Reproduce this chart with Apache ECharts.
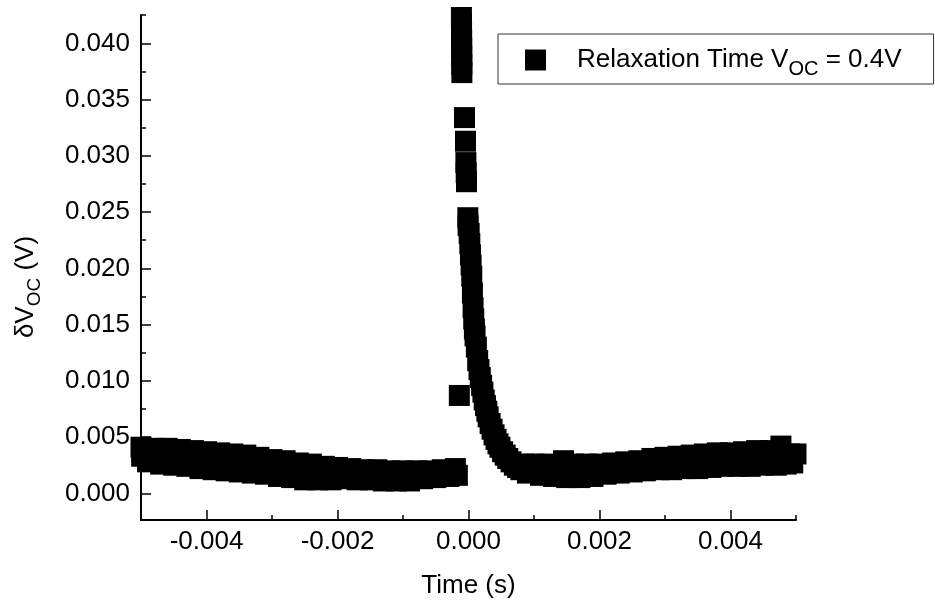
<!DOCTYPE html>
<html><head><meta charset="utf-8">
<script src="https://cdn.jsdelivr.net/npm/echarts@6/dist/echarts.min.js"></script>
<style>html,body{margin:0;padding:0;background:#fff}#c{width:935px;height:605px}</style>
</head><body><div id="c"></div>
<script>
const seriesName = 'Relaxation Time Voc = 0.4V';
const xLabelTicks = [-0.004, -0.002, 0, 0.002, 0.004];
const xMinorTicks = [-0.005, -0.003, -0.001, 0.001, 0.003, 0.005];
const yLabelTicks = [0, 0.005, 0.010, 0.015, 0.020, 0.025, 0.030, 0.035, 0.040];
const yMinorTicks = [0.0025, 0.0075, 0.0125, 0.0175, 0.0225, 0.0275, 0.0325, 0.0375, 0.0425];

// baseline before the pulse (time in s, dVoc in V)
const timeBefore = [-0.00500, -0.00499, -0.0049, -0.0048, -0.0047, -0.0046, -0.0045, -0.0044, -0.0043, -0.0042, -0.0041,
  -0.0040, -0.0039, -0.0038, -0.0037, -0.0036, -0.0035, -0.0034, -0.0033, -0.0032, -0.0031,
  -0.0030, -0.0029, -0.0028, -0.0027, -0.0026, -0.0025, -0.0024, -0.0023, -0.0022, -0.0021,
  -0.0020, -0.0019, -0.0018, -0.0017, -0.0016, -0.0015, -0.0014, -0.0013, -0.0012, -0.0011,
  -0.0010, -0.0009, -0.0008, -0.0007, -0.0006, -0.0005, -0.0004, -0.0003, -0.0002, -0.00017];
const voltBefore = [0.0041, 0.0033, 0.0028, 0.0040, 0.0026, 0.0040, 0.0025, 0.0039, 0.0024, 0.0038, 0.0022,
  0.0037, 0.0021, 0.0036, 0.0020, 0.0035, 0.0019, 0.0034, 0.0018, 0.0032, 0.0017,
  0.0030, 0.0015, 0.0029, 0.0014, 0.0027, 0.0012, 0.0026, 0.0012, 0.0024, 0.0012,
  0.0023, 0.0013, 0.0022, 0.0012, 0.0021, 0.0012, 0.0021, 0.0011, 0.0020, 0.0011,
  0.0020, 0.0011, 0.0020, 0.0013, 0.0020, 0.0014, 0.0021, 0.0015, 0.0022, 0.0016];

// pulse and decay
const timeDecay = [-0.00014, -0.000108, -0.000107, -0.000106, -0.000105, -0.000104, -0.000103, -0.000102, -0.000101,
  -0.000061, -0.000046, -0.000040, -0.000035, -0.000031, -0.000010, -0.000006,
  0.00001, 0.00002, 0.00003, 0.00004, 0.00005, 0.00006, 0.00007, 0.00008, 0.00009, 0.00010,
  0.00012, 0.00014, 0.00016, 0.00018, 0.00020, 0.00022, 0.00024, 0.00026, 0.00028, 0.00030,
  0.00033, 0.00036, 0.00039, 0.00042, 0.00045, 0.00048, 0.00052, 0.00056, 0.00060, 0.00065,
  0.00070, 0.00075, 0.00080];
const voltDecay = [0.0087, 0.0423, 0.0417, 0.0410, 0.0403, 0.0396, 0.0389, 0.0381, 0.0374,
  0.0334, 0.0313, 0.0294, 0.0285, 0.0277, 0.0245, 0.0238,
  0.0231, 0.0222, 0.0212, 0.0203, 0.0193, 0.0178, 0.0165, 0.0155, 0.0146, 0.0140,
  0.0130, 0.0118, 0.0110, 0.0103, 0.0096, 0.0090, 0.0083, 0.0078, 0.0073, 0.0068,
  0.0062, 0.0057, 0.0052, 0.0048, 0.0044, 0.0041, 0.0037, 0.0034, 0.0031, 0.0028,
  0.0025, 0.0023, 0.0021];

// baseline after the pulse
const timeAfter = [0.00085, 0.0009, 0.0010, 0.0011, 0.0012, 0.0013, 0.00145, 0.0015, 0.0016, 0.0017, 0.0018, 0.0019,
  0.0020, 0.0021, 0.0022, 0.0023, 0.0024, 0.0025, 0.0026, 0.0027, 0.0028, 0.0029,
  0.0030, 0.0031, 0.0032, 0.0033, 0.0034, 0.0035, 0.0036, 0.0037, 0.0038, 0.0039,
  0.0040, 0.0041, 0.0042, 0.0043, 0.0044, 0.0045, 0.0046, 0.0047, 0.00477, 0.00485, 0.0049, 0.00495, 0.0050];
const voltAfter = [0.0026, 0.0018, 0.0026, 0.0016, 0.0026, 0.0015, 0.0029, 0.0014, 0.0026, 0.0014, 0.0026, 0.0015,
  0.0026, 0.0017, 0.0027, 0.0018, 0.0028, 0.0019, 0.0029, 0.0020, 0.0031, 0.0021,
  0.0032, 0.0021, 0.0033, 0.0022, 0.0034, 0.0022, 0.0035, 0.0023, 0.0036, 0.0024,
  0.0036, 0.0024, 0.0037, 0.0024, 0.0038, 0.0025, 0.0038, 0.0025, 0.0042, 0.0026, 0.0035, 0.0027, 0.0035];

const times = timeBefore.concat(timeDecay, timeAfter);
const volts = voltBefore.concat(voltDecay, voltAfter);
const points = times.map((t, i) => [t, volts[i]]);

const FONT = 'Liberation Sans, Arial, sans-serif';
const fmt = v => (Math.abs(v) < 1e-12 ? 0 : v).toFixed(3);

const chart = echarts.init(document.getElementById('c'), null, {renderer: 'canvas'});
chart.setOption({
  animation: false,
  backgroundColor: '#fff',
  grid: {left: 141, right: 139, top: 15, bottom: 85},
  xAxis: [{
    type: 'value', min: -0.005, max: 0.005, position: 'bottom',
    name: 'Time (s)', nameLocation: 'middle', nameGap: 53,
    nameTextStyle: {fontFamily: FONT, fontSize: 26, color: '#000'},
    axisLine: {onZero: false, lineStyle: {color: '#000', width: 2}},
    axisTick: {inside: true, length: 10, lineStyle: {color: '#000', width: 1.5}, customValues: xLabelTicks},
    axisLabel: {customValues: xLabelTicks, formatter: fmt, fontFamily: FONT, fontSize: 26, color: '#000', margin: 9},
    splitLine: {show: false}
  }, {
    type: 'value', min: -0.005, max: 0.005, position: 'bottom', offset: 0,
    axisLine: {show: false, onZero: false},
    axisTick: {inside: true, length: 5, lineStyle: {color: '#000', width: 1.5}, customValues: xMinorTicks},
    axisLabel: {show: false},
    splitLine: {show: false}
  }],
  yAxis: [{
    type: 'value', min: -0.00237, max: 0.04252, position: 'left',
    axisLine: {onZero: false, lineStyle: {color: '#000', width: 2}},
    axisTick: {inside: true, length: 10, lineStyle: {color: '#000', width: 1.5}, customValues: yLabelTicks},
    axisLabel: {customValues: yLabelTicks, formatter: fmt, fontFamily: FONT, fontSize: 26, color: '#000', margin: 11},
    splitLine: {show: false}
  }, {
    type: 'value', min: -0.00237, max: 0.04252, position: 'left', offset: 0,
    axisLine: {show: false, onZero: false},
    axisTick: {inside: true, length: 5, lineStyle: {color: '#000', width: 1.5}, customValues: yMinorTicks},
    axisLabel: {show: false},
    splitLine: {show: false}
  }],
  legend: {
    left: 498, top: 34,
    padding: [7, 32, 5, 27],
    borderColor: '#333', borderWidth: 1, backgroundColor: '#fff',
    itemWidth: 21, itemHeight: 21, icon: 'rect',
    itemStyle: {color: '#000', opacity: 1, borderWidth: 0},
    selectedMode: false,
    data: [seriesName],
    formatter: () => '{gap| }{a|Relaxation Time V}{b|OC}{a| = 0.4V}',
    textStyle: {
      rich: {
        gap: {width: 26, fontSize: 26, lineHeight: 36},
        a: {fontFamily: FONT, fontSize: 26, lineHeight: 36, color: '#000'},
        b: {fontFamily: FONT, fontSize: 20, lineHeight: 20, padding: [18, 0, 0, 0], color: '#000'}
      }
    }
  },
  graphic: [{
    type: 'text', x: 26, y: 287, rotation: Math.PI / 2,
    style: {
      text: '{a|δV}{b|OC}{a| (V)}',
      align: 'center', verticalAlign: 'middle',
      rich: {
        a: {fontFamily: FONT, fontSize: 26, lineHeight: 36, fill: '#000'},
        b: {fontFamily: FONT, fontSize: 19, lineHeight: 19, padding: [17, 0, 0, 0], fill: '#000'}
      }
    }
  }],
  series: [{
    name: seriesName, type: 'scatter', xAxisIndex: 0, yAxisIndex: 0,
    symbol: 'rect', symbolSize: 21, clip: false,
    itemStyle: {color: '#000', opacity: 1, borderWidth: 0},
    emphasis: {disabled: true},
    data: points
  }]
});
</script></body></html>
